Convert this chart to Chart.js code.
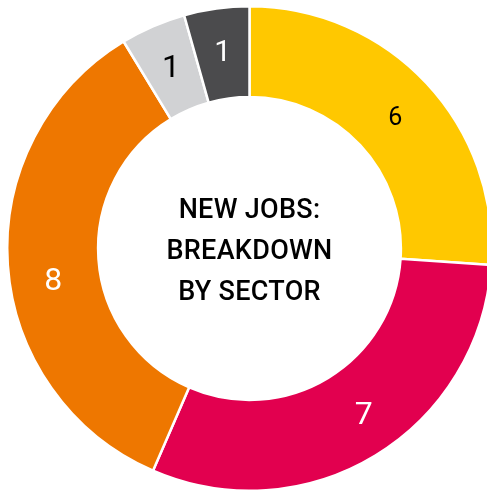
<!DOCTYPE html>
<html>
<head>
<meta charset="utf-8">
<script src="https://cdn.jsdelivr.net/npm/chart.js@4"></script>
<style>
  html, body { margin: 0; padding: 0; overflow: hidden; background: #fff; }
  #wrap { width: 493px; height: 493px; }
</style>
</head>
<body>
<div id="wrap"><canvas id="myChart"></canvas></div>
<script>
const sectors = ["Sector A", "Sector B", "Sector C", "Sector D", "Sector E"];
const jobs = [6, 7, 8, 1, 1];
const sliceColors = ["#FFC800", "#E2004F", "#EE7700", "#D1D2D4", "#4B4B4D"];
const labelColors = ["#000000", "#ffffff", "#ffffff", "#000000", "#ffffff"];
const centerLines = ["NEW JOBS:", "BREAKDOWN", "BY SECTOR"];

// small hand nudges so the numbers sit where the original put them
const labelNudge = [[2, 5, 25], [12, -1, 32], [0, 20, 32], [0, 1, 32], [0, 0, 30]];

const sliceLabels = {
    id: 'sliceLabels',
    afterDatasetsDraw(chart) {
        const ctx = chart.ctx;
        const meta = chart.getDatasetMeta(0);
        ctx.save();
        ctx.textAlign = 'center';
        ctx.textBaseline = 'middle';
        meta.data.forEach((arc, i) => {
            const p = arc.getCenterPoint();
            const n = labelNudge[i];
            ctx.font = n[2] + 'px Roboto';
            ctx.fillStyle = labelColors[i];
            ctx.fillText(String(jobs[i]), p.x + n[0], p.y + n[1]);
        });
        // center title
        const c = meta.data[0];
        ctx.fillStyle = '#000';
        ctx.font = '500 27px Roboto';
        ctx.letterSpacing = '0.3px';
        centerLines.forEach((line, i) => {
            ctx.fillText(line, c.x, c.y + 4 + (i - 1) * 41);
        });
        ctx.restore();
    }
};

new Chart("myChart", {
    type: "doughnut",
    data: {
        labels: sectors,
        datasets: [{
            data: jobs,
            backgroundColor: sliceColors,
            borderColor: "#ffffff",
            borderWidth: 2.5
        }]
    },
    options: {
        responsive: true,
        maintainAspectRatio: false,
        animation: false,
        cutout: '62.5%',
        layout: {
            padding: { left: 6, right: 0, top: 4, bottom: 0 }
        },
        plugins: {
            legend: { display: false },
            tooltip: { enabled: false }
        }
    },
    plugins: [sliceLabels]
});
</script>
</body>
</html>
